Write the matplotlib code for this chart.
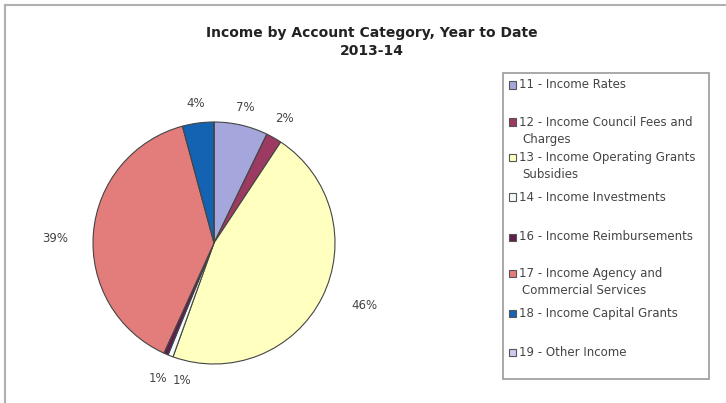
import numpy as np
import matplotlib.pyplot as plt
from matplotlib.patches import Rectangle
from matplotlib.lines import Line2D

# data
categories = ["11 - Income Rates",
              "12 - Income Council Fees and\nCharges",
              "13 - Income Operating Grants\nSubsidies",
              "14 - Income Investments",
              "16 - Income Reimbursements",
              "17 - Income Agency and\nCommercial Services",
              "18 - Income Capital Grants",
              "19 - Other Income"]
shares = [7.2, 2.1, 46.2, 0.7, 0.6, 39.0, 4.2, 0.0]
pct_labels = ["7%", "2%", "46%", "1%", "1%", "39%", "4%", ""]
colors = ["#a4a6dc", "#9c3a62", "#ffffc0", "#f4fbfb", "#5e1e4e",
          "#e27d7c", "#1463b2", "#ccccf0"]

fig = plt.figure(figsize=(7.26, 4.03), dpi=100)
W, H = 726, 403

# outer chart border
fig.add_artist(Line2D([5 / W, 5 / W], [0, 1 - 5 / H], color="#b0b0b0", lw=1.5))
fig.add_artist(Line2D([5 / W, 1], [1 - 5 / H, 1 - 5 / H], color="#b0b0b0", lw=1.5))

fig.text(372 / W, 1 - 33 / H, "Income by Account Category, Year to Date",
         ha="center", va="center", fontsize=10, fontweight="bold", color="#222222")
fig.text(372 / W, 1 - 51 / H, "2013-14", ha="center", va="center",
         fontsize=10, fontweight="bold", color="#222222")

# pie axes: centre (214, 243), radius 121 px
cx, cy, r = 214, 243, 121
ax = fig.add_axes([(cx - r) / W, (H - cy - r) / H, 2 * r / W, 2 * r / H])
wedges, _ = ax.pie(shares, colors=colors, startangle=90, counterclock=False,
                   radius=1, wedgeprops=dict(edgecolor="#444444", linewidth=0.8))
ax.set_xlim(-1, 1)
ax.set_ylim(-1, 1)
ax.axis("off")

# percentage labels, small ones nudged apart like the original
nudge = [0, 0, 4, 8, 1, 3, 0, 0]
dist = [1.15, 1.18, 1.35, 1.17, 1.21, 1.31, 1.16, 1.2]
for w, lab, dn, d in zip(wedges, pct_labels, nudge, dist):
    if not lab:
        continue
    ang = np.deg2rad((w.theta1 + w.theta2) / 2 + dn)
    ax.text(d * np.cos(ang), d * np.sin(ang), lab, ha="center", va="center",
            fontsize=8.5, color="#444444", clip_on=False)

# legend box
lx0, ly0, lx1, ly1 = 503, 73, 709, 379
fig.add_artist(Rectangle((lx0 / W, 1 - ly1 / H), (lx1 - lx0) / W, (ly1 - ly0) / H,
                         transform=fig.transFigure, facecolor="white",
                         edgecolor="#999999", lw=1.2))
rows_y = [85, 122, 157, 197, 237, 273, 313, 352]
for lab, col, y in zip(categories, colors, rows_y):
    fig.add_artist(Rectangle((509 / W, 1 - (y + 3.5) / H), 7 / W, 7 / H,
                             transform=fig.transFigure, facecolor=col,
                             edgecolor="#555555", lw=0.8))
    lines = lab.split("\n")
    fig.text(519 / W, 1 - y / H, lines[0], ha="left", va="center",
             fontsize=8.5, color="#444444")
    if len(lines) > 1:
        fig.text(522 / W, 1 - (y + 18) / H, lines[1], ha="left", va="center",
                 fontsize=8.5, color="#444444")

fig.savefig("out.png", dpi=100)
